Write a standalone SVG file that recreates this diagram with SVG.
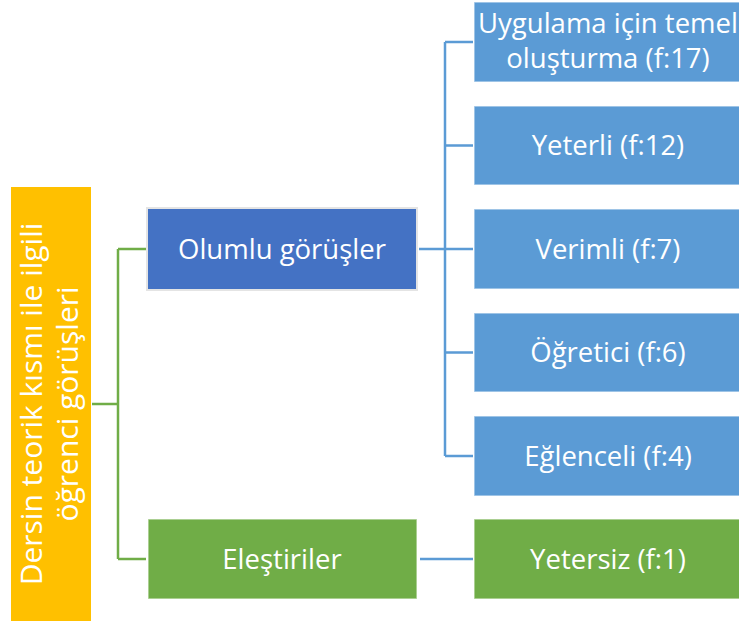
<svg xmlns="http://www.w3.org/2000/svg" width="739" height="621" viewBox="0 0 739 621">
<style>
.t{font-family:"Open Sans","Noto Sans","Liberation Sans",sans-serif;fill:#ffffff;text-anchor:middle;font-size:27.5px}
.r{font-size:30px}
.box{stroke:#ffffff;stroke-opacity:0.55;stroke-width:1.5}
.ol{stroke:#e4e4e4;stroke-width:2}
.cg{fill:none;stroke:#70AD47;stroke-width:2.5}
.cb{fill:none;stroke:#5B9BD5;stroke-width:2.5}
</style>
<rect width="739" height="621" fill="#ffffff"/>
<g id="connectors">
<path class="cg" d="M92 404H118M118 249V559M118 249H146M118 559H146"/>
<path class="cb" d="M419 249H445M445 42V456M445 42H473M445 145.5H473M445 249H473M445 352.5H473M445 456H473M420 559H473"/>
</g>
<g id="root">
<rect x="11" y="187" width="80" height="436" fill="#FFC000"/>
<g transform="translate(51,404) rotate(-90)">
<text class="t r" x="0" y="-9">Dersin teorik kısmı ile ilgili</text>
<text class="t r" x="0" y="27">öğrenci görüşleri</text>
</g>
</g>
<g id="olumlu">
<rect class="ol" x="147" y="208" width="270" height="82" fill="#4472C4"/>
<text class="t" x="282" y="259">Olumlu görüşler</text>
</g>
<g id="elestiriler">
<rect class="box" x="148" y="519" width="269" height="80" fill="#70AD47"/>
<text class="t" x="282" y="569">Eleştiriler</text>
</g>
<g id="uygulama">
<rect class="box" x="474" y="2" width="268" height="80" fill="#5B9BD5"/>
<text class="t" x="608" y="33">Uygulama için temel</text>
<text class="t" x="608" y="68">oluşturma (f:17)</text>
</g>
<g id="yeterli">
<rect class="box" x="474" y="106" width="268" height="79" fill="#5B9BD5"/>
<text class="t" x="608" y="155">Yeterli (f:12)</text>
</g>
<g id="verimli">
<rect class="box" x="474" y="209" width="268" height="80" fill="#5B9BD5"/>
<text class="t" x="608" y="259">Verimli (f:7)</text>
</g>
<g id="ogretici">
<rect class="box" x="474" y="313" width="268" height="79" fill="#5B9BD5"/>
<text class="t" x="608" y="362">Öğretici (f:6)</text>
</g>
<g id="eglenceli">
<rect class="box" x="474" y="416" width="268" height="80" fill="#5B9BD5"/>
<text class="t" x="608" y="466">Eğlenceli (f:4)</text>
</g>
<g id="yetersiz">
<rect class="box" x="474" y="519" width="268" height="80" fill="#70AD47"/>
<text class="t" x="608" y="569">Yetersiz (f:1)</text>
</g>
</svg>
